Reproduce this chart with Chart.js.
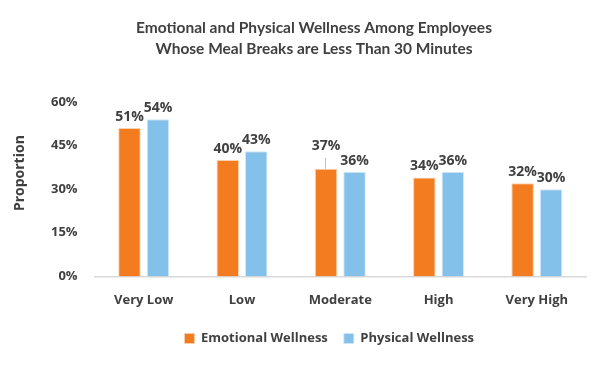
<!DOCTYPE html>
<html>
<head>
<meta charset="utf-8">
<script src="https://cdn.jsdelivr.net/npm/chart.js@4.4.0/dist/chart.umd.min.js"></script>
<style>
  html, body { margin: 0; padding: 0; background: #fff; }
  #wrap { width: 600px; height: 367px; }
</style>
</head>
<body>
<div id="wrap"><canvas id="grafica"></canvas></div>
<script>
// datos del grafico
var categorias = ["Very Low", "Low", "Moderate", "High", "Very High"];
var emocional = [51, 40, 37, 34, 32];
var fisico = [54, 43, 36, 36, 30];
var ticksY = [0, 15, 30, 45, 60];

var texto = "#404040";
var fuente = "'Open Sans', sans-serif";
var fuenteTitulo = "Lato, 'Open Sans', sans-serif";

// etiquetas encima de cada barra
var etiquetasBarras = {
    id: "etiquetasBarras",
    afterDatasetsDraw: function (chart) {
        var ctx = chart.ctx;
        ctx.save();
        ctx.font = "bold 14px " + fuente;
        ctx.fillStyle = texto;
        ctx.textAlign = "center";
        ctx.textBaseline = "bottom";
        chart.data.datasets.forEach(function (ds, d) {
            var meta = chart.getDatasetMeta(d);
            meta.data.forEach(function (bar, i) {
                var extra = 0;
                // la etiqueta de 37% esta levantada con una linea guia
                if (d === 0 && i === 2) {
                    extra = 12;
                    ctx.strokeStyle = "#bfbfbf";
                    ctx.lineWidth = 1;
                    ctx.beginPath();
                    ctx.moveTo(Math.round(bar.x) - 0.5, bar.y);
                    ctx.lineTo(Math.round(bar.x) - 0.5, bar.y - 11);
                    ctx.stroke();
                }
                ctx.fillText(ds.data[i] + "%", bar.x, bar.y - 4 - extra);
            });
        });
        // titulo del eje y, un poco por encima del centro como en Excel
        ctx.save();
        ctx.translate(20, (chart.chartArea.top + chart.chartArea.bottom) / 2 - 16);
        ctx.rotate(-Math.PI / 2);
        ctx.font = "bold 14px " + fuente;
        ctx.textBaseline = "middle";
        ctx.fillText("Proportion", 0, 0);
        ctx.restore();
        ctx.restore();
    }
};

// la leyenda de Excel queda centrada sobre el area de graficado
var moverLeyenda = {
    id: "moverLeyenda",
    afterLayout: function (chart) {
        var lg = chart.legend;
        var dx = (chart.chartArea.left + chart.chartArea.right) / 2 - 11 - (lg.left + lg.right) / 2;
        lg.left += dx;
        lg.right += dx;
    }
};

var ctx = document.getElementById("grafica").getContext("2d");
var miGrafica = new Chart(ctx, {
    type: "bar",
    data: {
        labels: categorias,
        datasets: [
            {
                label: "Emotional Wellness",
                data: emocional,
                backgroundColor: "#f47c20",
                borderColor: "#fbd2b0",
                borderWidth: { top: 1, left: 1, right: 1, bottom: 0 },
                categoryPercentage: 0.58,
                barPercentage: 0.79
            },
            {
                label: "Physical Wellness",
                data: fisico,
                backgroundColor: "#83c1ea",
                borderColor: "#d3e9f8",
                borderWidth: { top: 1, left: 1, right: 1, bottom: 0 },
                categoryPercentage: 0.58,
                barPercentage: 0.79
            }
        ]
    },
    options: {
        responsive: true,
        maintainAspectRatio: false,
        animation: false,
        layout: { padding: { left: 42, right: 14, top: 6, bottom: 12 } },
        scales: {
            x: {
                grid: { display: false },
                border: { color: "#d9d9d9", width: 1.5 },
                ticks: {
                    color: texto,
                    font: { family: fuente, size: 13, weight: "bold" },
                    padding: 8
                }
            },
            y: {
                min: 0,
                max: 60,
                afterBuildTicks: function (axis) {
                    axis.ticks = ticksY.map(function (v) { return { value: v }; });
                },
                grid: { display: false },
                border: { display: false },
                ticks: {
                    color: texto,
                    font: { family: fuente, size: 13, weight: "bold" },
                    padding: 9,
                    callback: function (v) { return v + "%"; }
                }
            }
        },
        plugins: {
            title: {
                display: true,
                text: ["Emotional and Physical Wellness Among Employees", "Whose Meal Breaks are Less Than 30 Minutes"],
                color: texto,
                font: { family: fuenteTitulo, size: 15.5, weight: "bold", lineHeight: 1.35 },
                padding: { top: 12, bottom: 42 }
            },
            legend: {
                position: "bottom",
                labels: {
                    color: texto,
                    font: { family: fuente, size: 13, weight: "bold" },
                    boxWidth: 10,
                    boxHeight: 10,
                    padding: 16
                }
            },
            tooltip: { enabled: false }
        }
    },
    plugins: [etiquetasBarras, moverLeyenda]
});
</script>
</body>
</html>
